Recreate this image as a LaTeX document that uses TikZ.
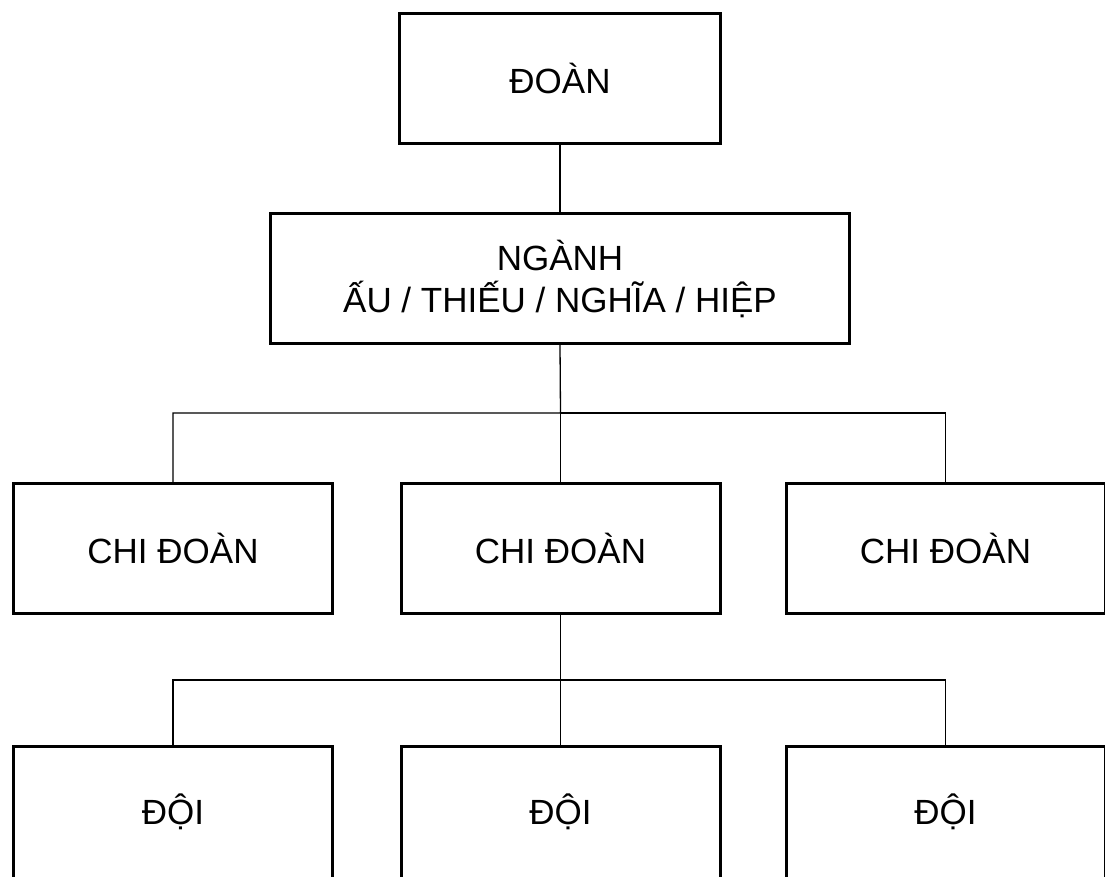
\documentclass[tikz,border=0pt]{standalone}
\usepackage{fontspec}
\setmainfont{Liberation Sans}
\usetikzlibrary{positioning}

\begin{document}
\begin{tikzpicture}[x=1pt, y=-1pt,
    unit/.style = {draw, line width=3pt, minimum width=319pt, minimum height=130pt, inner sep=0pt},
    link/.style = {line width=1.3pt}]
  \tikzset{every node/.style={anchor=center, align=center, font=\fontsize{35}{42}\selectfont}}
  \useasboundingbox (0,0) rectangle (1105,877);
  % top levels
  \node [unit, minimum width=321pt] (doan) at (560,78.5) {ĐOÀN};
  \node [unit, minimum width=579pt] (nganh) at (560,278.5) {NGÀNH\\ẤU / THIẾU / NGHĨA / HIỆP};
  % chi doan row
  \node [unit] (chi1) at (173,548.5) {CHI ĐOÀN};
  \node [unit] (chi2) at (560.5,548.5) {CHI ĐOÀN};
  \node [unit] (chi3) at (945.5,548.5) {CHI ĐOÀN};
  % doi row (cut off at the bottom edge)
  \node [unit, minimum height=140pt, text depth=0pt] (doi1) at (173,816.5) {};
  \node [unit, minimum height=140pt] (doi2) at (560.5,816.5) {};
  \node [unit, minimum height=140pt] (doi3) at (945.5,816.5) {};
  \node at (173,811.5) (t1) {ĐỘI};
  \node at (560.5,811.5) (t2) {ĐỘI};
  \node at (945.5,811.5) (t3) {ĐỘI};
  \coordinate (bar1) at (560.5,413);
  \coordinate (bar2) at (560.5,680);
  \path [link]
    (doan) edge (nganh);
  \draw [link] (nganh.south) -- (bar1) -| (chi1.north);
  \draw [link] (bar1) -| (chi3.north);
  \draw [link] (bar1) -- (chi2.north);
  \draw [link] (chi2.south) -- (bar2) -| (doi1.north);
  \draw [link] (bar2) -| (doi3.north);
  \draw [link] (bar2) -- (doi2.north);
\end{tikzpicture}
\end{document}
